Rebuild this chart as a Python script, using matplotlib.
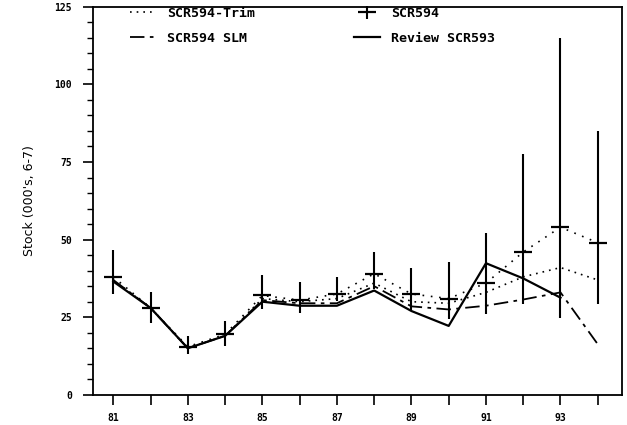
import numpy as np
import matplotlib
matplotlib.use('Agg')
import matplotlib.pyplot as plt

years = [81, 82, 83, 84, 85, 86, 87, 88, 89, 90, 91, 92, 93, 94]

# SCR594 point estimates with error bars
scr594 = [38, 28, 15.5, 19.5, 32, 30.5, 32.5, 39, 32.5, 31, 36, 46, 54, 49]
scr594_lo = [32.6, 23, 13, 15.6, 27.7, 26.4, 30.3, 34.2, 27, 24.4, 26, 29.4, 24.8, 29.4]
scr594_hi = [46.6, 33, 19, 23.8, 38.5, 36.2, 37.8, 46, 40.8, 42.7, 52, 77.6, 115, 85]

trim = [37, 28, 15, 19, 31, 30, 31, 36, 30, 29.5, 33, 38, 41, 37]
slm = [37, 28, 15, 19, 30.5, 29.5, 29.5, 35, 28.5, 27.5, 28.7, 30.7, 33, 16.3]
review_years = [81, 82, 83, 84, 85, 86, 87, 88, 89, 90, 91, 92, 93]
review = [36.5, 28, 15, 19, 30, 28.7, 28.7, 33.6, 27, 22.2, 42.4, 37.5, 31.3]

fnt = 'DejaVu Sans Mono'

fig = plt.figure(figsize=(6.27, 4.25), dpi=100)
ax = fig.add_axes([0.148, 0.071, 0.844, 0.913])

ax.plot(years, scr594, color='black', linestyle=(0, (1, 4)), lw=1.2)
ax.plot(years, trim, color='black', linestyle=(0, (1, 3)), lw=1.2,
        label='SCR594-Trim')
ax.plot(years, slm, color='black', linestyle=(0, (8, 3, 2, 3)), lw=1.3,
        label='SCR594 SLM')
ax.plot(review_years, review, color='black', lw=1.6, label='Review SCR593')

err = [np.array(scr594) - np.array(scr594_lo), np.array(scr594_hi) - np.array(scr594)]
eb = ax.errorbar(years, scr594, yerr=err, fmt='_', color='black', ms=13,
                 mew=1.6, elinewidth=1.5, capsize=0, label='SCR594')

ax.set_xlim(80.45, 94.65)
ax.set_ylim(0, 125)
ax.set_xticks(years)
ax.set_xticklabels([str(y) if y % 2 == 1 else '' for y in years])
ax.set_yticks([0, 25, 50, 75, 100, 125])
ax.set_yticks(np.arange(0, 126, 5), minor=True)
ax.tick_params(direction='out', length=7, width=1.2, labelsize=7)
ax.tick_params(axis='y', pad=8)
ax.tick_params(axis='x', pad=6)
ax.tick_params(which='minor', direction='out', length=4, width=1)
for lab in ax.get_xticklabels() + ax.get_yticklabels():
    lab.set_family(fnt)
    lab.set_weight('bold')
for s in ax.spines.values():
    s.set_linewidth(1.3)

ax.set_ylabel("Stock (000's, 6-7)", fontsize=9, family='DejaVu Sans', labelpad=13)

h, l = ax.get_legend_handles_labels()
order = [l.index('SCR594-Trim'), l.index('SCR594 SLM'),
         l.index('SCR594'), l.index('Review SCR593')]
ax.legend([h[i] for i in order], [l[i] for i in order], ncol=2, frameon=False,
          loc='upper left', bbox_to_anchor=(0.07, 1.0), borderaxespad=0,
          borderpad=0, columnspacing=7.5, handlelength=2, handletextpad=0.8,
          labelspacing=0.9,
          prop={'family': fnt, 'weight': 'bold', 'size': 9.5})

fig.savefig('out.png', dpi=100)
